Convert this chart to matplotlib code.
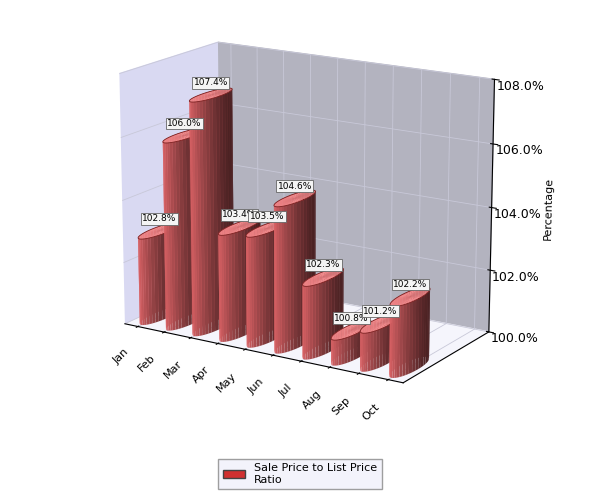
import numpy as np
import matplotlib
matplotlib.use("Agg")
import matplotlib.pyplot as plt
from matplotlib.patches import Patch

months = ["Jan","Feb","Mar","Apr","May","Jun","Jul","Aug","Sep","Oct"]
values = [102.8,106.0,107.4,103.4,103.5,104.6,102.3,100.8,101.2,102.2]
yticks = [100,102,104,106,108]

fig = plt.figure(figsize=(6,5), dpi=100)
ax = fig.add_axes([0.0,0.14,1.0,0.88], projection='3d')
ax.view_init(elev=16, azim=-58)
ax.set_box_aspect((3.0,1.6,2.4))
ax.computed_zorder = False

r = 0.3
th = np.linspace(0, 2*np.pi, 40)
for i,(m,v) in enumerate(zip(months, values)):
    zz = np.array([100, v])
    T, Z = np.meshgrid(th, zz)
    X = i + r*np.cos(T); Y = 0.35 + r*np.sin(T)
    ax.plot_surface(X, Y, Z, color='#e8686c', shade=True, linewidth=0, antialiased=True, zorder=2*i+1)
    R, T2 = np.meshgrid([0, r], th)
    ax.plot_surface(i + R*np.cos(T2), 0.35 + R*np.sin(T2), np.full_like(R, v),
                    color='#f08a8c', shade=False, linewidth=0, zorder=2*i+1.5)
    ax.plot(i + r*np.cos(th), 0.35 + r*np.sin(th), v, color='#7a2020', lw=0.6, zorder=2*i+1.6)
    ax.text(i, 0.35, v + 0.3, f"{v:.1f}%", fontsize=6.5, ha='center', zorder=50,
            bbox=dict(boxstyle='square,pad=0.15', fc='#f4f4f4', ec='#666666', lw=0.6))

ax.set_xlim(-0.5, len(months)-0.5)
ax.set_ylim(0, 1.5)
ax.set_zlim(100, 108)
ax.set_xticks(range(len(months)))
ax.set_xticklabels(months, rotation=45, fontsize=8, ha='right')
ax.set_yticks([])
ax.set_zticks(yticks)
ax.set_zticklabels([f"{t:.1f}%" for t in yticks], fontsize=9)
ax.set_zlabel("Percentage", fontsize=8)
ax.xaxis.set_pane_color((0.85,0.85,0.95,1))
ax.yaxis.set_pane_color((0.7,0.7,0.75,1))
ax.zaxis.set_pane_color((0.96,0.96,0.99,1))
for a in (ax.xaxis, ax.yaxis, ax.zaxis):
    a._axinfo['grid'].update(color='#c8c8d8', linewidth=0.6)

fig.legend(handles=[Patch(fc='#d03030', ec='#444444', label='Sale Price to List Price\nRatio')],
           loc='lower center', bbox_to_anchor=(0.5, 0.01), fontsize=8, frameon=True,
           fancybox=False, edgecolor='#888888', facecolor='#f0f0fa')
fig.savefig("out.png", dpi=100)
